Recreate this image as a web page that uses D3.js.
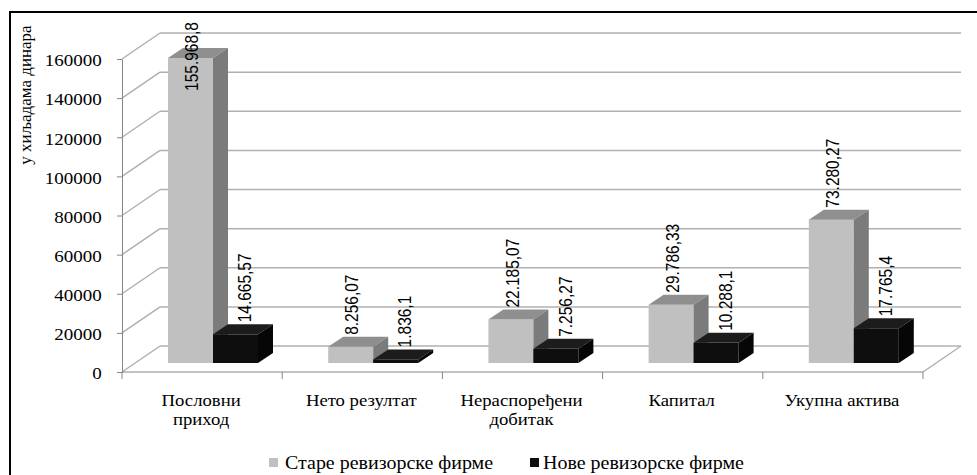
<!DOCTYPE html>
<html>
<head>
<meta charset="utf-8">
<script src="https://cdn.jsdelivr.net/npm/d3@7"></script>
<style>
  body { margin: 0; background: #fff; }
  svg { display: block; }
  .serif { font-family: "Liberation Serif", "DejaVu Serif", "Times New Roman", serif; }
  .sans { font-family: "Liberation Sans", Arial, sans-serif; }
</style>
</head>
<body>
<svg id="chart" width="977" height="475"></svg>
<script>
// data
const categories = ["Пословни\nприход", "Нето резултат", "Нераспоређени\nдобитак", "Капитал", "Укупна актива"];
const series = ["Старе ревизорске фирме", "Нове ревизорске фирме"];
const oldFirms = [155968.8, 8256.07, 22185.07, 29786.33, 73280.27];
const newFirms = [14665.57, 1836.1, 7256.27, 10288.1, 17765.4];
const yTickValues = [0, 20000, 40000, 60000, 80000, 100000, 120000, 140000, 160000];
const yTitle = "у хиљадама динара";

const colors = {
  old: { front: "#c0c0c0", top: "#8f8f8f", side: "#7b7b7b" },
  new: { front: "#0e0e0e", top: "#1c1c1c", side: "#060606" }
};

// 3d-ish geometry
const x0 = 122, x1 = 923;
const wallDX = 38, wallDY = -26;   // depth of floor / back wall
const barDX = 11, barDY = -9;      // where bars sit on the floor
const depX = 15, depY = -10;       // bar thickness

const svg = d3.select("#chart");

// frame
svg.append("rect")
  .attr("x", 10).attr("y", 12)
  .attr("width", 1100).attr("height", 600)
  .attr("fill", "#fff")
  .attr("stroke", "#000")
  .attr("stroke-width", 2);

const x = d3.scaleBand().domain(categories).range([x0, x1]);
const xs = d3.scaleBand().domain(series).range([35, 125]);
const y = d3.scaleLinear().domain([0, 160000]).range([372, 59]);

// walls
const grid = svg.append("g").attr("stroke", "#b0b0b0").attr("stroke-width", 1.5).attr("fill", "none");
yTickValues.forEach(t => {
  grid.append("line")
    .attr("x1", x0).attr("y1", y(t))
    .attr("x2", x0 + wallDX).attr("y2", y(t) + wallDY);
  grid.append("line")
    .attr("x1", x0 + wallDX).attr("y1", y(t) + wallDY)
    .attr("x2", x1 + wallDX).attr("y2", y(t) + wallDY);
});
grid.append("line")
  .attr("x1", x1).attr("y1", y(0))
  .attr("x2", x1 + wallDX).attr("y2", y(0) + wallDY);

// y axis
const yAxis = svg.append("g")
  .attr("transform", `translate(${x0},0)`)
  .call(d3.axisLeft(y).tickValues(yTickValues).tickSize(5).tickSizeOuter(0).tickPadding(13).tickFormat(d3.format("d")));
yAxis.attr("font-family", null);
yAxis.select(".domain").attr("stroke", "#868686");
yAxis.selectAll(".tick line").attr("stroke", "#868686");
yAxis.selectAll(".tick text")
  .attr("class", "serif")
  .style("font-size", "17px")
  .attr("fill", "#000")
  .attr("dy", "0.4em")
  .attr("transform", "scale(1.12,1)");

// x axis line + boundary ticks
const xa = svg.append("g").attr("stroke", "#868686").attr("stroke-width", 1);
xa.append("line").attr("x1", x0).attr("x2", x1).attr("y1", y(0)).attr("y2", y(0));
categories.map(c => x(c)).concat([x.range()[1]]).forEach(px => {
  xa.append("line").attr("x1", px).attr("x2", px).attr("y1", y(0)).attr("y2", y(0) + 7);
});

// category labels
categories.forEach(c => {
  const t = svg.append("text")
    .attr("class", "serif")
    .attr("transform", `translate(${x(c) + x.bandwidth() / 2 - 1},406) scale(1.1,1)`)
    .attr("text-anchor", "middle")
    .style("font-size", "17px")
    .attr("fill", "#000");
  c.split("\n").forEach((line, i) => {
    t.append("tspan").attr("x", 0).attr("dy", i ? 19 : 0).text(line);
  });
});

// bars
function drawBar(px, w, v, col) {
  const yb = y(0) + barDY, yt = y(v) + barDY;
  const g = svg.append("g");
  g.append("rect").attr("x", px).attr("y", yt).attr("width", w).attr("height", yb - yt).attr("fill", col.front);
  g.append("polygon")
    .attr("points", [[px, yt], [px + depX, yt + depY], [px + w + depX, yt + depY], [px + w, yt]].join(" "))
    .attr("fill", col.top);
  g.append("polygon")
    .attr("points", [[px + w, yt], [px + w + depX, yt + depY], [px + w + depX, yb + depY], [px + w, yb]].join(" "))
    .attr("fill", col.side);
}

function fmt(v) {
  const [i, d] = String(v).split(".");
  return i.replace(/\B(?=(\d{3})+(?!\d))/g, ".") + (d ? "," + d : "");
}

const labelSpots = [];
categories.forEach((c, i) => {
  [[series[0], oldFirms[i], colors.old, 1], [series[1], newFirms[i], colors.new, 9]].forEach(([s, v, col, off]) => {
    const px = x(c) + xs(s) + barDX;
    drawBar(px, xs.bandwidth(), v, col);
    labelSpots.push({ cx: px + xs.bandwidth() / 2 + off, bottom: y(v) + barDY + depY - 2, text: fmt(v) });
  });
});

// value labels, rotated
labelSpots.forEach(d => {
  const t = svg.append("text")
    .attr("class", "sans")
    .style("font-size", "15.5px")
    .attr("fill", "#000")
    .text(d.text);
  const len = t.node().getComputedTextLength();
  const bottom = Math.max(d.bottom, 22 + len);
  t.attr("transform", `translate(${d.cx + 6.7},${bottom}) rotate(-90) scale(1,1.2)`);
});

// y title
svg.append("text")
  .attr("class", "serif")
  .attr("transform", "translate(31,95) rotate(-90)")
  .attr("text-anchor", "middle")
  .style("font-size", "17px")
  .attr("fill", "#000")
  .text(yTitle);

// legend
[[269, 285, colors.old.front], [530, 543, colors.new.front]].forEach(([sx, tx, fill], i) => {
  svg.append("rect").attr("x", sx).attr("y", 458).attr("width", 9).attr("height", 9).attr("fill", fill);
  svg.append("text")
    .attr("class", "serif")
    .attr("transform", `translate(${tx},469) scale(1.11,1)`)
    .style("font-size", "18px")
    .attr("fill", "#000")
    .text(series[i]);
});
</script>
</body>
</html>
